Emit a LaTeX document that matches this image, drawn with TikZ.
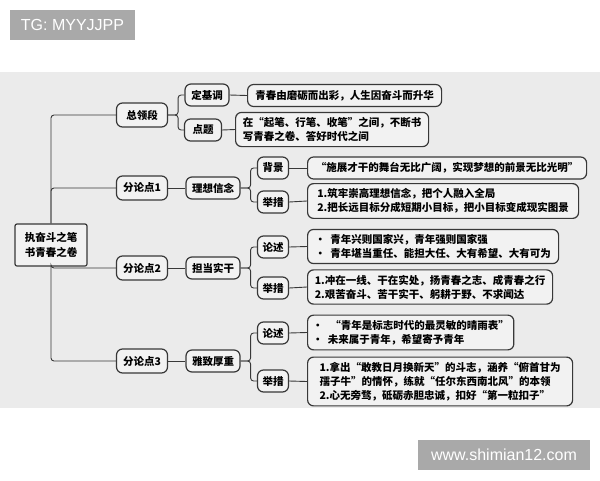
\documentclass[tikz,border=0pt]{standalone}
\usepackage{fontspec}
\setmainfont{Noto Sans CJK SC}
\newfontfamily\markfont{Liberation Sans}
\usepackage{tikz}
\usetikzlibrary{positioning}
\definecolor{bandgray}{HTML}{EBEBEB}
\definecolor{boxfill}{HTML}{F2F2F2}
\definecolor{linegray}{HTML}{383838}
\definecolor{markgray}{HTML}{A9A9A9}

\begin{document}
\begin{tikzpicture}[x=1pt,y=-1pt,
    box/.style={draw=linegray, line width=1.2pt, fill=boxfill, rounded corners=6pt,
        font=\fontsize{10.5}{14}\selectfont\bfseries, inner xsep=5pt, inner ysep=0pt,
        minimum height=22pt},
    txt/.style={box, anchor=west, align=left, inner ysep=5pt},
    link/.style={draw=linegray, line width=0.9pt, rounded corners=3pt},
    wmark/.style={fill=markgray, text=white, font=\markfont\fontsize{16}{18}\selectfont,
        inner sep=0pt}]
    \useasboundingbox (0,0) rectangle (600,480);
    \fill[bandgray] (0,72) rectangle (600,408);

    % watermarks
    \node[wmark, minimum width=125, minimum height=30] (tg) at (72.5,25) {TG: MYYJJPP};
    \node[wmark, minimum width=172, minimum height=30] (site) at (504,455) {www.shimian12.com};

    % root
    \node[box, minimum width=72, minimum height=42, rounded corners=2pt, align=center,
        font=\fontsize{10.5}{15}\selectfont\bfseries] (root) at (51,245) {执奋斗之笔\\书青春之卷};

    % first level
    \node[box, minimum width=51, minimum height=24] (zld) at (142,115) {总领段};
    \node[box, minimum width=51, minimum height=24] (fld1) at (142,188) {分论点1};
    \node[box, minimum width=51, minimum height=24] (fld2) at (142,268) {分论点2};
    \node[box, minimum width=51, minimum height=24] (fld3) at (142,361) {分论点3};

    % second level
    \node[box, minimum width=44] (djd) at (207,95) {定基调};
    \node[box, minimum width=37] (dt) at (203,130) {点题};
    \node[box, minimum width=54] (lxxn) at (213,188) {理想信念};
    \node[box, minimum width=54] (ddsg) at (213,268) {担当实干};
    \node[box, minimum width=54] (yzhz) at (213,361) {雅致厚重};

    % third level
    \node[box, minimum width=31] (bj) at (273,168) {背景};
    \node[box, minimum width=31] (jc1) at (273,202) {举措};
    \node[box, minimum width=31] (ls2) at (273,247) {论述};
    \node[box, minimum width=31] (jc2) at (273,288) {举措};
    \node[box, minimum width=31] (ls3) at (273,333) {论述};
    \node[box, minimum width=31] (jc3) at (273,381) {举措};

    % text boxes
    \node[txt, minimum width=194] (djdT) at (247,95.5) {青春由磨砺而出彩，人生因奋斗而升华};
    \node[txt, minimum width=193] (dtT) at (235,129.5) {在“起笔、行笔、收笔”之间，不断书\\写青春之卷、答好时代之间};
    \node[txt, minimum width=279] (bjT) at (307,168) {“施展才干的舞台无比广阔，实现梦想的前景无比光明”};
    \node[txt, minimum width=271] (jc1T) at (307,201) {1.筑牢崇高理想信念，把个人融入全局\\2.把长远目标分成短期小目标，把小目标变成现实图景};
    \node[txt, minimum width=251] (ls2T) at (307,246.5) {•\ \ 青年兴则国家兴，青年强则国家强\\•\ \ 青年堪当重任、能担大任、大有希望、大有可为};
    \node[txt, minimum width=245] (jc2T) at (307,287) {1.冲在一线、干在实处，扬青春之志、成青春之行\\2.艰苦奋斗、苦干实干、躬耕于野、不求闻达};
    \node[txt, minimum width=206] (ls3T) at (307,332.5) {•\ \ \ “青年是标志时代的最灵敏的晴雨表”\\•\ \ 未来属于青年，希望寄予青年};
    \node[txt, minimum width=265] (jc3T) at (307,381.5) {1.拿出“敢教日月换新天”的斗志，涵养“俯首甘为\\孺子牛”的情怀，练就“任尔东西南北风”的本领\\2.心无旁骛，砥砺赤胆忠诚，扣好“第一粒扣子”};

    % trunk
    \draw[link] (root.north) |- (zld.west);
    \draw[link] (root.north) |- (fld1.west);
    \draw[link] (root.south) |- (fld2.west);
    \draw[link] (root.south) |- (fld3.west);

    % branches
    \draw[link] (zld.east) -- ++(10,0) |- (djd.west);
    \draw[link] (zld.east) -- ++(10,0) |- (dt.west);
    \draw[link] (fld1.east) -- (lxxn.west);
    \draw[link] (fld2.east) -- (ddsg.west);
    \draw[link] (fld3.east) -- (yzhz.west);
    \draw[link] (lxxn.east) -- ++(10,0) |- (bj.west);
    \draw[link] (lxxn.east) -- ++(10,0) |- (jc1.west);
    \draw[link] (ddsg.east) -- ++(10,0) |- (ls2.west);
    \draw[link] (ddsg.east) -- ++(10,0) |- (jc2.west);
    \draw[link] (yzhz.east) -- ++(10,0) |- (ls3.west);
    \draw[link] (yzhz.east) -- ++(10,0) |- (jc3.west);

    % leaves
    \draw[link] (djd.east) -- (djdT.west);
    \draw[link] (dt.east) -- (dtT.west);
    \draw[link] (bj.east) -- (bjT.west);
    \draw[link] (jc1.east) -- (jc1T.west);
    \draw[link] (ls2.east) -- (ls2T.west);
    \draw[link] (jc2.east) -- (jc2T.west);
    \draw[link] (ls3.east) -- (ls3T.west);
    \draw[link] (jc3.east) -- (jc3T.west);
\end{tikzpicture}
\end{document}
